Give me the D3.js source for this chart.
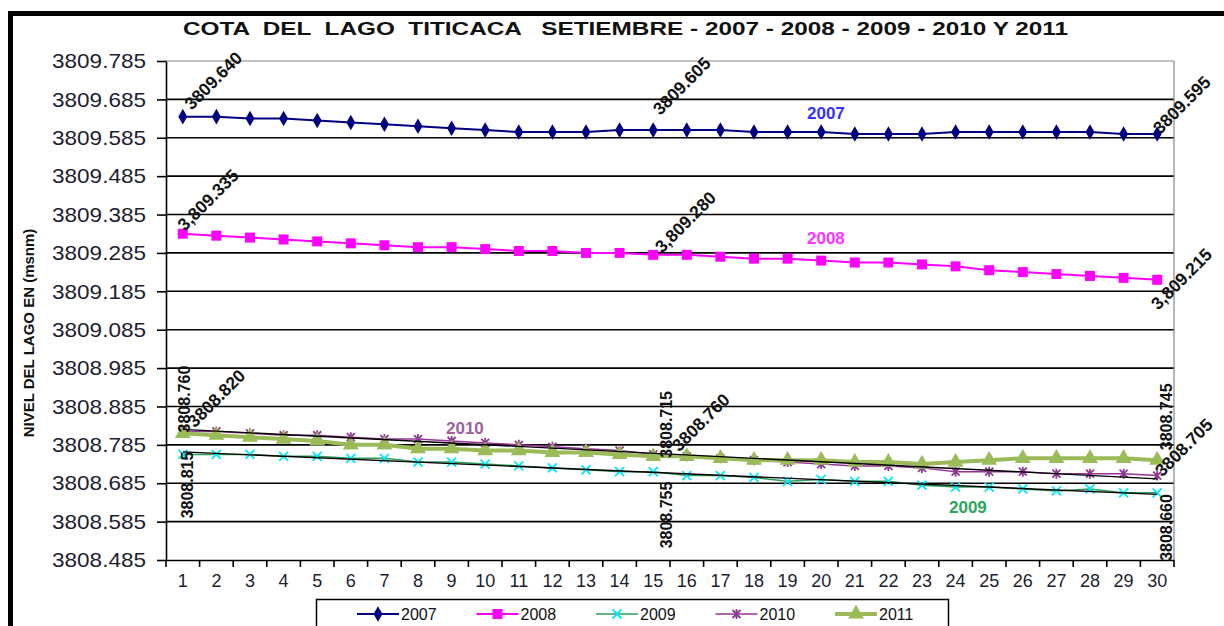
<!DOCTYPE html>
<html>
<head>
<meta charset="utf-8">
<script src="https://cdn.jsdelivr.net/npm/d3@7"></script>
<style>
body { margin: 0; background: #fff; }
svg { display: block; font-family: Arial, "Liberation Sans", sans-serif; }
</style>
</head>
<body>
<svg id="chart"></svg>
<script>
// data (lake level in m.a.s.l., days of September)
const days = [1, 2, 3, 4, 5, 6, 7, 8, 9, 10, 11, 12, 13, 14, 15, 16, 17, 18, 19, 20, 21, 22, 23, 24, 25, 26, 27, 28, 29, 30];

const level2007 = [3809.640, 3809.640, 3809.635, 3809.635, 3809.630, 3809.625, 3809.620, 3809.615, 3809.610, 3809.605,
                   3809.600, 3809.600, 3809.600, 3809.605, 3809.605, 3809.605, 3809.605, 3809.600, 3809.600, 3809.600,
                   3809.595, 3809.595, 3809.595, 3809.600, 3809.600, 3809.600, 3809.600, 3809.600, 3809.595, 3809.595];

const level2008 = [3809.335, 3809.330, 3809.325, 3809.320, 3809.315, 3809.310, 3809.305, 3809.300, 3809.300, 3809.295,
                   3809.290, 3809.290, 3809.285, 3809.285, 3809.280, 3809.280, 3809.275, 3809.270, 3809.270, 3809.265,
                   3809.260, 3809.260, 3809.255, 3809.250, 3809.240, 3809.235, 3809.230, 3809.225, 3809.220, 3809.215];

const level2009 = [3808.760, 3808.760, 3808.760, 3808.755, 3808.755, 3808.750, 3808.750, 3808.740, 3808.740, 3808.735,
                   3808.730, 3808.725, 3808.720, 3808.715, 3808.715, 3808.705, 3808.705, 3808.700, 3808.690, 3808.695,
                   3808.690, 3808.690, 3808.680, 3808.675, 3808.675, 3808.670, 3808.665, 3808.670, 3808.660, 3808.660];

const level2010 = [3808.820, 3808.820, 3808.815, 3808.810, 3808.810, 3808.805, 3808.800, 3808.800, 3808.795, 3808.790,
                   3808.785, 3808.780, 3808.775, 3808.770, 3808.760, 3808.755, 3808.750, 3808.745, 3808.740, 3808.735,
                   3808.730, 3808.730, 3808.725, 3808.715, 3808.715, 3808.715, 3808.710, 3808.710, 3808.710, 3808.705];

const level2011 = [3808.815, 3808.810, 3808.805, 3808.800, 3808.795, 3808.785, 3808.785, 3808.775, 3808.775, 3808.770,
                   3808.770, 3808.765, 3808.765, 3808.760, 3808.755, 3808.755, 3808.750, 3808.745, 3808.745, 3808.745,
                   3808.740, 3808.740, 3808.735, 3808.740, 3808.745, 3808.750, 3808.750, 3808.750, 3808.750, 3808.745];

const yTicks = [3808.485, 3808.585, 3808.685, 3808.785, 3808.885, 3808.985, 3809.085,
                3809.185, 3809.285, 3809.385, 3809.485, 3809.585, 3809.685, 3809.785];

const seriesNames = ["2007", "2008", "2009", "2010", "2011"];

// value labels written on the chart
const pointLabels = [
    {series: "2007", day: 1, text: "3809.640"},
    {series: "2007", day: 15, text: "3809.605"},
    {series: "2007", day: 30, text: "3809.595"},
    {series: "2008", day: 1, text: "3,809.335"},
    {series: "2008", day: 15, text: "3,809.280"},
    {series: "2008", day: 30, text: "3,809.215"},
    {series: "2009", day: 1, text: "3808.760"},
    {series: "2010", day: 1, text: "3808.820"},
    {series: "2011", day: 1, text: "3808.815"},
    {series: "2009", day: 15, text: "3808.715"},
    {series: "2010", day: 15, text: "3808.760"},
    {series: "2011", day: 15, text: "3808.755"},
    {series: "2011", day: 30, text: "3808.745"},
    {series: "2010", day: 30, text: "3808.705"},
    {series: "2009", day: 30, text: "3808.660"}
];

const title = "COTA  DEL  LAGO  TITICACA   SETIEMBRE - 2007 - 2008 - 2009 - 2010 Y 2011";
const yAxisTitle = "NIVEL DEL LAGO EN (msnm)";

// ---------------------------------------------------------------
const W = 1224, H = 626;
const svg = d3.select("#chart").attr("width", W).attr("height", H);

svg.append("rect").attr("width", W).attr("height", H).attr("fill", "#fff");

// outer frame of the sheet (left + top)
svg.append("path")
    .attr("d", `M10.5,${H} L10.5,13.5 L${W},13.5`)
    .attr("fill", "none")
    .attr("stroke", "#000")
    .attr("stroke-width", 5);

// set the ranges
const x = d3.scaleBand().domain(days).range([166, 1174]).padding(0);
const y = d3.scaleLinear().domain([3808.485, 3809.785]).range([560, 61]);
const cx = d => x(d) + x.bandwidth() / 2;

const series = [
    {name: "2007", values: level2007, color: "#000080", width: 2,   marker: "diamond",  mcolor: "#000080"},
    {name: "2008", values: level2008, color: "#ff00ff", width: 2,   marker: "square",   mcolor: "#ff00ff"},
    {name: "2009", values: level2009, color: "#2e9e5b", width: 1.5, marker: "x",        mcolor: "#00e8ff"},
    {name: "2010", values: level2010, color: "#993399", width: 1.5, marker: "star",     mcolor: "#8a3a8f"},
    {name: "2011", values: level2011, color: "#9bbb59", width: 4,   marker: "triangle", mcolor: "#9bbb59"}
];
const byName = {};
series.forEach(s => byName[s.name] = s);

// gridlines
svg.append("g")
    .selectAll("line")
    .data(yTicks.slice(1))
    .enter()
    .append("line")
        .attr("x1", x.range()[0])
        .attr("x2", x.range()[1])
        .attr("y1", d => y(d))
        .attr("y2", d => y(d))
        .attr("stroke", (d, i, a) => i === a.length - 1 ? "#888" : "#000")
        .attr("stroke-width", (d, i, a) => i === a.length - 1 ? 1.2 : 1.6);

// right border of plot area
svg.append("line")
    .attr("x1", x.range()[1]).attr("x2", x.range()[1])
    .attr("y1", y.range()[1]).attr("y2", y.range()[0])
    .attr("stroke", "#888").attr("stroke-width", 1.2);

// y axis
const yAxis = svg.append("g")
    .attr("transform", `translate(${x.range()[0]},0)`)
    .call(d3.axisLeft(y).tickValues(yTicks).tickFormat(d3.format(".3f")).tickSize(9).tickSizeOuter(0).tickPadding(11));
yAxis.select(".domain").attr("stroke", "#000").attr("stroke-width", 1.6);
yAxis.selectAll(".tick line").attr("stroke", "#000").attr("stroke-width", 1.6);
yAxis.selectAll(".tick text")
    .attr("font-size", 21)
    .attr("font-family", "Arial, 'Liberation Sans', sans-serif")
    .attr("fill", "#1e1e30")
    .attr("textLength", 94)
    .attr("lengthAdjust", "spacingAndGlyphs");

// x axis
const xAxis = svg.append("g")
    .attr("transform", `translate(0,${y.range()[0]})`)
    .call(d3.axisBottom(x).tickSize(0).tickSizeOuter(0).tickPadding(14));
xAxis.select(".domain").attr("stroke", "#000").attr("stroke-width", 1.6);
xAxis.selectAll(".tick text")
    .attr("font-size", 18)
    .attr("font-family", "Arial, 'Liberation Sans', sans-serif")
    .attr("fill", "#1e1e30");
// tick marks at band boundaries
svg.append("g")
    .selectAll("line")
    .data(days.map(d => x(d)).concat([x.range()[1]]))
    .enter()
    .append("line")
        .attr("x1", d => d).attr("x2", d => d)
        .attr("y1", y.range()[0]).attr("y2", y.range()[0] + 7)
        .attr("stroke", "#000").attr("stroke-width", 1.6);

// markers
const markerPath = {
    diamond: d3.symbol(d3.symbolDiamond, 70)(),
    square: d3.symbol(d3.symbolSquare, 100)(),
    triangle: d3.symbol(d3.symbolTriangle, 110)(),
    x: "M-4.5,-4.5L4.5,4.5M-4.5,4.5L4.5,-4.5",
    star: "M-4,-4L4,4M-4,4L4,-4M0,-5L0,5"
};

function drawSeries(s) {
    const line = d3.line()
        .x((v, i) => cx(days[i]))
        .y(v => y(v));
    svg.append("path")
        .datum(s.values)
        .attr("fill", "none")
        .attr("stroke", s.color)
        .attr("stroke-width", s.width)
        .attr("d", line);
    const stroked = s.marker === "x" || s.marker === "star";
    svg.append("g")
        .selectAll("path")
        .data(s.values)
        .enter()
        .append("path")
            .attr("transform", (v, i) => `translate(${cx(days[i])},${y(v)})`)
            .attr("d", markerPath[s.marker])
            .attr("fill", stroked ? "none" : s.mcolor)
            .attr("stroke", stroked ? s.mcolor : "none")
            .attr("stroke-width", stroked ? 1.8 : 0);
}
series.forEach(drawSeries);

// linear trend lines for 2009 and 2010
function trend(values) {
    const mx = d3.mean(days), my = d3.mean(values);
    const b = d3.sum(days, (d, i) => (d - mx) * (values[i] - my)) / d3.sum(days, d => (d - mx) * (d - mx));
    return d => my + b * (d - mx);
}
[level2009, level2010].forEach(vals => {
    const f = trend(vals);
    const d0 = days[0], d1 = days[days.length - 1];
    svg.append("line")
        .attr("x1", cx(d0)).attr("y1", y(f(d0)))
        .attr("x2", cx(d1)).attr("y2", y(f(d1)))
        .attr("stroke", "#000").attr("stroke-width", 1.4);
});

// value labels (rotation and offset from the point)
const labelOffsets = [
    {rot: -45, dx: 9, dy: -6},
    {rot: -45, dx: 7, dy: -14},
    {rot: -45, dx: 3, dy: 1},
    {rot: -45, dx: 2, dy: -2},
    {rot: -45, dx: 9, dy: -1},
    {rot: -45, dx: 1, dy: 31},
    {rot: -90, dx: 7, dy: -22},
    {rot: -45, dx: 12, dy: -3},
    {rot: -90, dx: 10, dy: 85},
    {rot: -90, dx: 19, dy: -14},
    {rot: -45, dx: 26, dy: -2},
    {rot: -90, dx: 19, dy: 92},
    {rot: -90, dx: 15, dy: -10},
    {rot: -45, dx: 5, dy: 2},
    {rot: -90, dx: 15, dy: 68}
];
svg.append("g")
    .selectAll("text")
    .data(pointLabels)
    .enter()
    .append("text")
        .attr("transform", (d, i) => {
            const v = byName[d.series].values[days.indexOf(d.day)];
            const o = labelOffsets[i];
            return `translate(${cx(d.day) + o.dx},${y(v) + o.dy}) rotate(${o.rot})`;
        })
        .attr("font-size", (d, i) => labelOffsets[i].rot === -45 ? 17.5 : 16)
        .attr("font-weight", "bold")
        .attr("fill", "#111")
        .text(d => d.text);

// series names written inside the plot
const nameLabels = [
    {text: "2007", x: 807, y: 119, color: "#3333ff"},
    {text: "2008", x: 807, y: 244, color: "#ff33ff"},
    {text: "2010", x: 446, y: 434, color: "#a0609a"},
    {text: "2009", x: 949, y: 513, color: "#2aa65a"}
];
svg.append("g")
    .selectAll("text")
    .data(nameLabels)
    .enter()
    .append("text")
        .attr("x", d => d.x)
        .attr("y", d => d.y)
        .attr("font-size", 17)
        .attr("font-weight", "bold")
        .attr("fill", d => d.color)
        .text(d => d.text);

// title
svg.append("text")
    .attr("x", 183)
    .attr("y", 35)
    .attr("font-size", 18)
    .attr("font-weight", "bold")
    .attr("fill", "#111")
    .style("white-space", "pre")
    .attr("textLength", 885)
    .attr("lengthAdjust", "spacingAndGlyphs")
    .text(title);

// y axis title
svg.append("text")
    .attr("transform", "translate(34,333) rotate(-90)")
    .attr("text-anchor", "middle")
    .attr("font-size", 15)
    .attr("font-weight", "bold")
    .attr("fill", "#111")
    .text(yAxisTitle);

// legend
const legend = svg.append("g");
legend.append("rect")
    .attr("x", 316.5).attr("y", 599.5)
    .attr("width", 632).attr("height", 40)
    .attr("fill", "#fff").attr("stroke", "#000").attr("stroke-width", 1.5);
const items = legend.selectAll("g.item")
    .data(seriesNames.map(n => byName[n]))
    .enter()
    .append("g")
        .attr("class", "item")
        .attr("transform", (d, i) => `translate(${357 + i * 119.5},614)`);
items.append("line")
    .attr("x1", 0).attr("x2", 42)
    .attr("stroke", d => d.color)
    .attr("stroke-width", d => d.width);
items.append("path")
    .attr("transform", "translate(21,0)")
    .attr("d", d => markerPath[d.marker])
    .attr("fill", d => (d.marker === "x" || d.marker === "star") ? "none" : d.mcolor)
    .attr("stroke", d => (d.marker === "x" || d.marker === "star") ? d.mcolor : "none")
    .attr("stroke-width", 1.8);
items.append("text")
    .attr("x", 44)
    .attr("y", 6)
    .attr("font-size", 16)
    .attr("font-weight", "normal")
    .attr("fill", "#111")
    .text(d => d.name);
</script>
</body>
</html>
